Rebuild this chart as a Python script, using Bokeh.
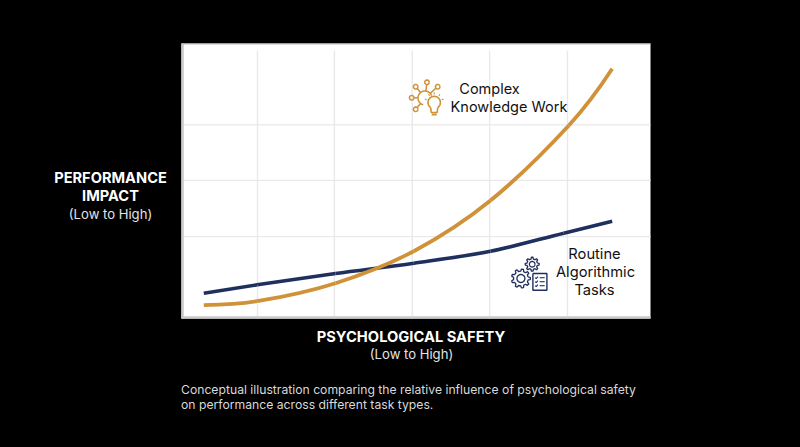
import math
from bokeh.embed import file_html
from bokeh.resources import INLINE
from bokeh.plotting import figure
from bokeh.models import Label, Range1d

FONT = "Inter"
NAVY = "#1f2f5e"
ORANGE = "#cf9238"
GRID = "#e9e9e9"
EDGE = "#c9c9c9"

# chart units: the white panel spans 0-100 in both directions
x_grid = [16.2, 32.6, 49.2, 65.7, 82.3]
y_grid = [29.8, 50.2, 70.4]

orange_x = [4.75, 16.14, 32.84, 49.53, 65.88, 82.58, 91.83]
orange_y = [4.84, 6.29, 12.84, 24.47, 42.91, 70.18, 90.8]
navy_x = [4.75, 16.14, 32.84, 49.53, 65.88, 81.51, 91.83]
navy_y = [9.2, 12.25, 16.36, 20.11, 24.47, 31.02, 35.38]

W, H = 800, 447
PL, PT, PR, PB = 181, 43, 650, 318   # white panel in page px
XU, YU = (PR - PL) / 100, (PB - PT) / 100

p = figure(width=W, height=H, output_backend="svg", toolbar_location=None,
           x_axis_type=None, y_axis_type=None,
           x_range=Range1d(-PL / XU, (W - PL) / XU),
           y_range=Range1d((PB - H) / YU, PB / YU),
           min_border=0, background_fill_color="black", border_fill_color="black",
           outline_line_color=None)
p.grid.visible = False


def px(x):
    return (x - PL) / XU


def py(y):
    return (PB - y) / YU


# panel
p.quad(left=[0], right=[100], bottom=[0], top=[100], fill_color="white", line_color=None)

# grid
p.segment(x0=x_grid, x1=x_grid, y0=[0] * 5, y1=[py(50)] * 5, line_color=GRID, line_width=1.4)
p.segment(x0=[px(183)] * 3, x1=[100] * 3, y0=y_grid, y1=y_grid, line_color=GRID, line_width=1.2)

# panel edges
p.segment(x0=[px(182)], x1=[px(182)], y0=[0], y1=[100], line_color=EDGE, line_width=2.5)
p.segment(x0=[0], x1=[100], y0=[py(317)], y1=[py(317)], line_color=EDGE, line_width=2.5)
p.segment(x0=[0], x1=[100], y0=[py(43.5)], y1=[py(43.5)], line_color="#bdbdbd", line_width=1)


# curves: smooth Bezier spans through the points
def smooth(xs, ys, color, width):
    n = len(xs)
    t = []
    for i in range(n):
        a, b = max(i - 1, 0), min(i + 1, n - 1)
        t.append((ys[b] - ys[a]) / (xs[b] - xs[a]))
    t[0] = 2 * (ys[1] - ys[0]) / (xs[1] - xs[0]) - t[1]
    t[0] = max(t[0], 0.03)
    t[-1] = 2 * (ys[-1] - ys[-2]) / (xs[-1] - xs[-2]) - t[-2]
    cx0, cy0, cx1, cy1 = [], [], [], []
    for i in range(n - 1):
        d = (xs[i + 1] - xs[i]) / 3
        cx0.append(xs[i] + d)
        cy0.append(ys[i] + t[i] * d)
        cx1.append(xs[i + 1] - d)
        cy1.append(ys[i + 1] - t[i + 1] * d)
    p.bezier(x0=xs[:-1], y0=ys[:-1], x1=xs[1:], y1=ys[1:], cx0=cx0, cy0=cy0, cx1=cx1, cy1=cy1,
             line_color=color, line_width=width)


smooth(navy_x, navy_y, NAVY, 3.6)
smooth(orange_x, orange_y, ORANGE, 3.8)


def text(t, x, y, size, color="white", weight="normal", align="center"):
    p.add_layout(Label(x=px(x), y=py(y), text=t, text_font=FONT, text_font_size=f"{size}px",
                       text_color=color, text_font_style=weight, text_align=align,
                       text_baseline="middle"))


text("Complex", 489, 88, 14.5, "#111111")
text("Knowledge Work", 508.5, 106, 14.5, "#111111")
text("Routine", 594, 253.5, 14.7, "#111111")
text("Algorithmic", 595, 271.5, 14.7, "#111111")
text("Tasks", 594, 289.5, 14.7, "#111111")

text("PERFORMANCE", 110, 177.5, 14.6, "white", "bold")
text("IMPACT", 110, 195.5, 14.6, "white", "bold")
text("(Low to High)", 110, 213, 13.1, "#e4e4e4")
text("PSYCHOLOGICAL SAFETY", 410.5, 336, 14.7, "white", "bold")
text("(Low to High)", 411, 353, 13.1, "#e4e4e4")
text("Conceptual illustration comparing the relative influence of psychological safety",
     180.5, 388.5, 12.2, "#d9d9d9", align="left")
text("on performance across different task types.", 180.5, 403.5, 12.2, "#d9d9d9", align="left")


# icons, drawn in page pixels
def poly(points, color, width=1.3, close=False):
    pts = list(points) + ([points[0]] if close else [])
    p.line([px(a) for a, _ in pts], [py(b) for _, b in pts], line_color=color, line_width=width)


def arc(cx, cy, r, a0, a1, n=24):
    return [(cx + r * math.cos(math.radians(a0 + (a1 - a0) * i / n)),
             cy - r * math.sin(math.radians(a0 + (a1 - a0) * i / n))) for i in range(n + 1)]


def gear(cx, cy, ro, ri, hole, teeth, color):
    pts = []
    for k in range(teeth):
        st = 360 / teeth
        for frac, r in ((-0.28, ri), (-0.16, ro), (0.16, ro), (0.28, ri)):
            a = math.radians(k * st + frac * st)
            pts.append((cx + r * math.cos(a), cy + r * math.sin(a)))
    poly(pts, color, 1.3, close=True)
    poly(arc(cx, cy, hole, 0, 360), color, 1.3)


# bulb / network icon
hub = (424.5, 97.5)
nodes = [(415.2, 86.2), (426.5, 81.8), (437.2, 86.2), (411.2, 97.2), (415.2, 108.8)]
poly(arc(hub[0], hub[1], 7, 20, 255), ORANGE, 1.5)
for nx, ny in nodes:
    dx, dy = hub[0] - nx, hub[1] - ny
    d = math.hypot(dx, dy)
    poly([(nx + dx / d * 2, ny + dy / d * 2), (nx + dx / d * (d - 7), ny + dy / d * (d - 7))], ORANGE, 1.5)
    poly(arc(nx, ny, 2.3, 0, 360, 12), ORANGE, 1.5)
poly(arc(433.7, 102, 6.2, -55, 235), ORANGE, 1.6)
poly([(430.2, 107.2), (430.7, 112), (436.7, 112), (437.2, 107.2)], ORANGE, 1.6)
poly([(431.2, 114), (436.2, 114)], ORANGE, 1.8)
for a in (20, 55, 90, 125, 160):
    c, s = math.cos(math.radians(a)), math.sin(math.radians(a))
    poly([(433.7 + 8 * c, 102 - 8 * s), (433.7 + 10 * c, 102 - 10 * s)], ORANGE, 1.1)

# gears / checklist icon
gear(531.7, 263.7, 7, 5.3, 2.8, 8, NAVY)
gear(520.4, 278, 9.5, 7.4, 4, 9, NAVY)
poly([(532.4, 273), (546.4, 273), (546.4, 289.7), (532.4, 289.7)], NAVY, 1.4, close=True)
for yy in (277.2, 281.2, 285.2):
    poly([(534.7, yy), (535.7, yy + 1), (537.4, yy - 1)], NAVY, 1.1)
    poly([(539.2, yy), (544.2, yy)], NAVY, 1.1)

html = file_html(p, INLINE)
html = html.replace("<head>", "<head><style>html,body{background:#000;overflow:hidden}</style>", 1)
open("out.html", "w").write(html)
